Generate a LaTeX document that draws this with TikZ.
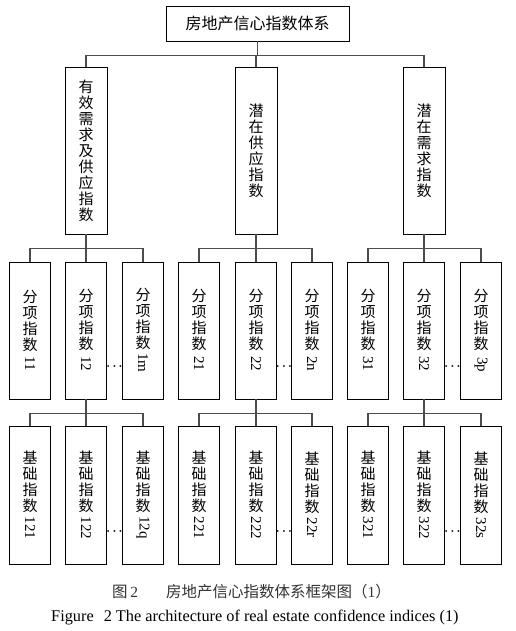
\documentclass[tikz,border=0pt]{standalone}
\usepackage{fontspec}
\usepackage{graphicx}
\setmainfont{Liberation Serif}
\newfontfamily\cjk{Noto Sans CJK SC}

\begin{document}
\begin{tikzpicture}[x=1pt, y=-1pt,
  box/.style={draw, line width=0.8pt, inner sep=0pt, align=center, font=\cjk\fontsize{15}{16}\selectfont},
  mainbox/.style={box, minimum width=42pt, minimum height=167pt},
  subbox/.style={box, minimum width=41pt, minimum height=137pt},
  link/.style={draw=black!70, line width=1.1pt},
  more/.style={inner sep=0pt, font=\fontsize{13}{13}\selectfont\boldmath}]
\useasboundingbox (0,0) rectangle (516,631);

\node[box, minimum width=183pt, minimum height=35pt, font=\cjk\fontsize{16}{16}\selectfont] (top) at (257.5,23.5) {房地产信心指数体系};

\node[mainbox] (a) at (86,150.5) {有\\效\\需\\求\\及\\供\\应\\指\\数};
\node[mainbox] (b) at (256,150.5) {潜\\在\\供\\应\\指\\数};
\node[mainbox] (c) at (424,150.5) {潜\\在\\需\\求\\指\\数};

\node[subbox] (s11) at (30,330.5) {分\\项\\指\\数\\[3pt]\rotatebox[origin=c]{-90}{\rmfamily 11}};
\node[subbox] (s12) at (86,330.5) {分\\项\\指\\数\\[3pt]\rotatebox[origin=c]{-90}{\rmfamily 12}};
\node[subbox] (s1m) at (143,330.5) {分\\项\\指\\数\\[3pt]\rotatebox[origin=c]{-90}{\rmfamily 1m}};
\node[subbox] (s21) at (199,330.5) {分\\项\\指\\数\\[3pt]\rotatebox[origin=c]{-90}{\rmfamily 21}};
\node[subbox] (s22) at (256,330.5) {分\\项\\指\\数\\[3pt]\rotatebox[origin=c]{-90}{\rmfamily 22}};
\node[subbox] (s2n) at (312,330.5) {分\\项\\指\\数\\[3pt]\rotatebox[origin=c]{-90}{\rmfamily 2n}};
\node[subbox] (s31) at (368,330.5) {分\\项\\指\\数\\[3pt]\rotatebox[origin=c]{-90}{\rmfamily 31}};
\node[subbox] (s32) at (424,330.5) {分\\项\\指\\数\\[3pt]\rotatebox[origin=c]{-90}{\rmfamily 32}};
\node[subbox] (s3p) at (481,330.5) {分\\项\\指\\数\\[3pt]\rotatebox[origin=c]{-90}{\rmfamily 3p}};

\node[subbox, minimum height=138pt] (b121) at (30,495) {基\\础\\指\\数\\[3pt]\rotatebox[origin=c]{-90}{\rmfamily 121}};
\node[subbox, minimum height=138pt] (b122) at (86,495) {基\\础\\指\\数\\[3pt]\rotatebox[origin=c]{-90}{\rmfamily 122}};
\node[subbox, minimum height=138pt] (b12q) at (143,495) {基\\础\\指\\数\\[3pt]\rotatebox[origin=c]{-90}{\rmfamily 12q}};
\node[subbox, minimum height=138pt] (b221) at (199,495) {基\\础\\指\\数\\[3pt]\rotatebox[origin=c]{-90}{\rmfamily 221}};
\node[subbox, minimum height=138pt] (b222) at (256,495) {基\\础\\指\\数\\[3pt]\rotatebox[origin=c]{-90}{\rmfamily 222}};
\node[subbox, minimum height=138pt] (b22r) at (312,495) {基\\础\\指\\数\\[3pt]\rotatebox[origin=c]{-90}{\rmfamily 22r}};
\node[subbox, minimum height=138pt] (b321) at (368,495) {基\\础\\指\\数\\[3pt]\rotatebox[origin=c]{-90}{\rmfamily 321}};
\node[subbox, minimum height=138pt] (b322) at (424,495) {基\\础\\指\\数\\[3pt]\rotatebox[origin=c]{-90}{\rmfamily 322}};
\node[subbox, minimum height=138pt] (b32s) at (481,495) {基\\础\\指\\数\\[3pt]\rotatebox[origin=c]{-90}{\rmfamily 32s}};

% dots between the last two boxes of each group
\node[more] (m1) at (114.5,367) {$\cdots$};
\node[more] (m2) at (284,367) {$\cdots$};
\node[more] (m3) at (452.5,367) {$\cdots$};
\node[more] (m4) at (114.5,532) {$\cdots$};
\node[more] (m5) at (284,532) {$\cdots$};
\node[more] (m6) at (452.5,532) {$\cdots$};

\draw[link] (top.south) -- ++(0,14) -| (a.north);
\draw[link] (top.south) -- ++(0,14) -| (c.north);
\draw[link] (top.south) -- ++(0,14) -| (b.north);

\draw[link] (a.south) -- ++(0,14) -| (s11.north);
\draw[link] (a.south) -- ++(0,14) -| (s1m.north);
\draw[link] (a.south) -- (s12.north);
\draw[link] (b.south) -- ++(0,14) -| (s21.north);
\draw[link] (b.south) -- ++(0,14) -| (s2n.north);
\draw[link] (b.south) -- (s22.north);
\draw[link] (c.south) -- ++(0,14) -| (s31.north);
\draw[link] (c.south) -- ++(0,14) -| (s3p.north);
\draw[link] (c.south) -- (s32.north);

\draw[link] (s12.south) -- ++(0,14) -| (b121.north);
\draw[link] (s12.south) -- ++(0,14) -| (b12q.north);
\draw[link] (s12.south) -- (b122.north);
\draw[link] (s22.south) -- ++(0,14) -| (b221.north);
\draw[link] (s22.south) -- ++(0,14) -| (b22r.north);
\draw[link] (s22.south) -- (b222.north);
\draw[link] (s32.south) -- ++(0,14) -| (b321.north);
\draw[link] (s32.south) -- ++(0,14) -| (b32s.north);
\draw[link] (s32.south) -- (b322.north);

\node[anchor=west, inner sep=0pt, text=black!80, font=\cjk\fontsize{15.5}{15.5}\selectfont] (cap) at (112,592) {图\,{\rmfamily 2}\hspace{28pt}房地产信心指数体系框架图（{\rmfamily 1}）};
\node[anchor=west, inner sep=0pt, font=\fontsize{16.3}{16.3}\selectfont] (capen) at (51,618) {Figure\hspace{10pt}2 The architecture of real estate confidence indices (1)};
\end{tikzpicture}
\end{document}
